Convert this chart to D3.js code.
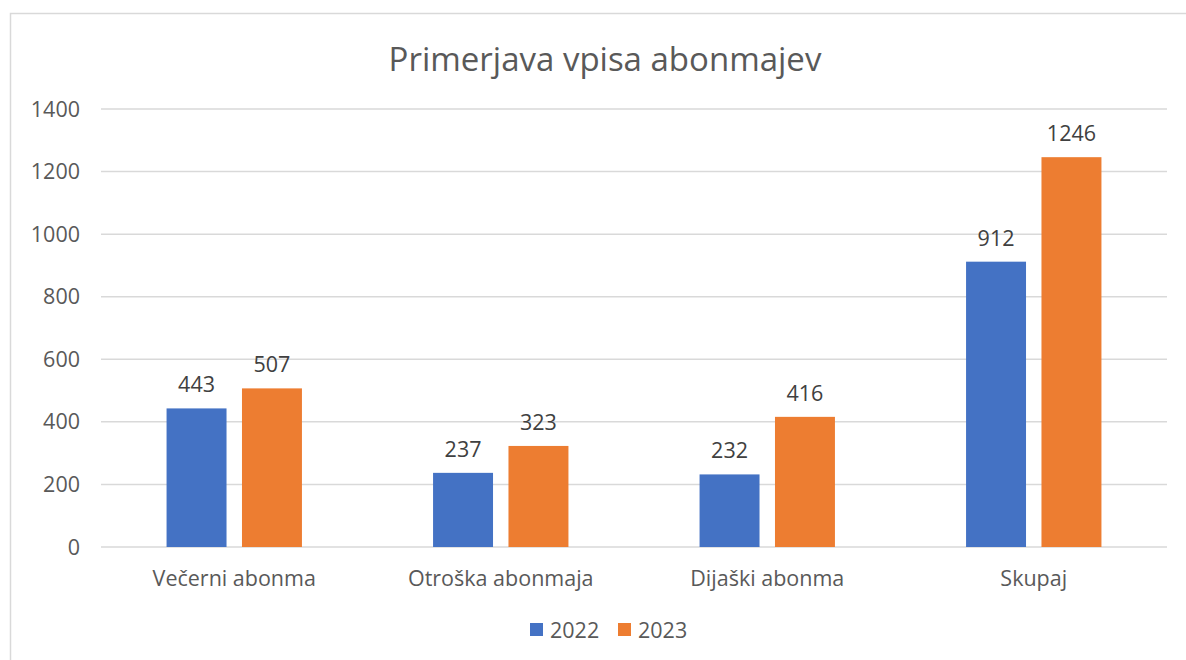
<!DOCTYPE html>
<html>
<head>
<meta charset="utf-8">
<script src="https://cdn.jsdelivr.net/npm/d3@7"></script>
<style>
  body { margin: 0; background: #fff; }
  svg { font-family: "Open Sans", sans-serif; }
</style>
</head>
<body>
<svg id="chart" width="1186" height="660"></svg>
<script>
const categories = ['Večerni abonma', 'Otroška abonmaja', 'Dijaški abonma', 'Skupaj']
const series = ['2022', '2023']
const values2022 = [443, 237, 232, 912]
const values2023 = [507, 323, 416, 1246]
const yTicks = [0, 200, 400, 600, 800, 1000, 1200, 1400]
const colors = ['#4472C4', '#ED7D31']

const svg = d3.select('#chart')
const margin = { top: 109, left: 101, right: 19, bottom: 113 }
const width = 1186 - margin.left - margin.right
const height = 660 - margin.top - margin.bottom

// chart frame
svg.append('rect')
  .attr('x', 10.5).attr('y', 13.5)
  .attr('width', 1200).attr('height', 700)
  .attr('fill', 'none').attr('stroke', '#d9d9d9').attr('stroke-width', 1.5)

svg.append('text')
  .attr('x', 605).attr('y', 71)
  .attr('text-anchor', 'middle')
  .attr('font-size', 33)
  .attr('fill', '#595959')
  .text('Primerjava vpisa abonmajev')

const g = svg.append('g').attr('transform', `translate(${margin.left},${margin.top})`)

const x = d3.scaleBand().domain(categories).range([0, width])
const y = d3.scaleLinear().domain([0, 1400]).range([height, 0])

// gridlines
g.append('g')
  .selectAll('line')
  .data(yTicks)
  .join('line')
  .attr('x1', 0).attr('x2', width)
  .attr('y1', d => y(d)).attr('y2', d => y(d))
  .attr('stroke', '#d9d9d9').attr('stroke-width', 1.5)

// y labels
g.append('g')
  .selectAll('text')
  .data(yTicks)
  .join('text')
  .attr('x', -21)
  .attr('y', d => y(d))
  .attr('dy', '0.35em')
  .attr('text-anchor', 'end')
  .attr('font-size', 21.5)
  .attr('fill', '#595959')
  .text(d => d)

const barW = x.bandwidth() * 0.225
const gap = x.bandwidth() * 0.058
const rows = categories.map((c, i) => [values2022[i], values2023[i]])

const groups = g.append('g')
  .selectAll('g')
  .data(rows)
  .join('g')
  .attr('transform', (d, i) => `translate(${x(categories[i]) + x.bandwidth() / 2},0)`)

groups.selectAll('rect')
  .data(d => d)
  .join('rect')
  .attr('x', (d, j) => j === 0 ? -gap / 2 - barW : gap / 2)
  .attr('y', d => y(d))
  .attr('width', barW)
  .attr('height', d => height - y(d))
  .attr('fill', (d, j) => colors[j])

groups.selectAll('text')
  .data(d => d)
  .join('text')
  .attr('x', (d, j) => j === 0 ? -gap / 2 - barW / 2 : gap / 2 + barW / 2)
  .attr('y', d => y(d) - 16)
  .attr('text-anchor', 'middle')
  .attr('font-size', 21.5)
  .attr('fill', '#404040')
  .text(d => d)

// category labels
g.append('g')
  .selectAll('text')
  .data(categories)
  .join('text')
  .attr('x', d => x(d) + x.bandwidth() / 2)
  .attr('y', height + 39)
  .attr('text-anchor', 'middle')
  .attr('font-size', 21.5)
  .attr('fill', '#595959')
  .text(d => d)

// legend
const legend = svg.append('g').attr('transform', 'translate(530,623)')
const items = legend.selectAll('g')
  .data(series)
  .join('g')
  .attr('transform', (d, i) => `translate(${i * 88},0)`)
items.append('rect')
  .attr('width', 13).attr('height', 13)
  .attr('fill', (d, i) => colors[i])
items.append('text')
  .attr('x', 20).attr('y', 7)
  .attr('dy', '0.35em')
  .attr('font-size', 21.5)
  .attr('fill', '#595959')
  .text(d => d)
</script>
</body>
</html>
